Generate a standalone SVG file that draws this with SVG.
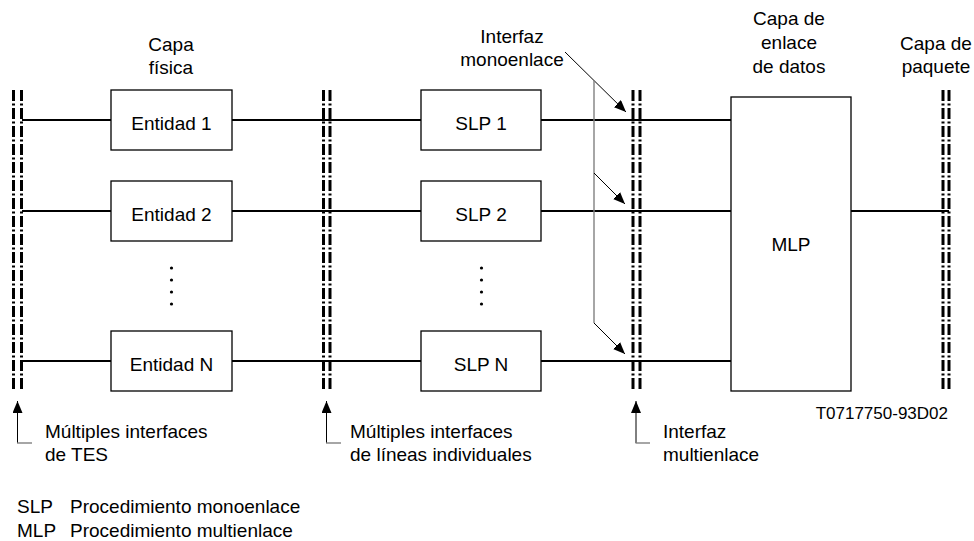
<svg xmlns="http://www.w3.org/2000/svg" width="974" height="541" viewBox="0 0 974 541">
<style>
text{font-family:"Liberation Sans",Arial,sans-serif;font-size:19px;fill:#000}
.c{text-anchor:middle}
.box{fill:#fff;stroke:#000;stroke-width:1.3}
.bar{stroke:#000;stroke-width:3;stroke-dasharray:11 2.5 2 2.5;fill:none}
.ln{stroke:#000;stroke-width:2.2;fill:none}
.thin{stroke:#000;stroke-width:1;fill:none}
.gray{stroke:#808080;stroke-width:1.4;fill:none}
.small{font-size:17px}
</style>
<defs>
<marker id="ah" viewBox="0 0 12 10" refX="12" refY="5" markerWidth="12" markerHeight="10" markerUnits="userSpaceOnUse" orient="auto">
<path d="M0,0 L12,5 L0,10 Z" fill="#000"/>
</marker>
</defs>
<g id="connectors">
<line class="ln" x1="22" y1="120" x2="111" y2="120"/>
<line class="ln" x1="232" y1="120" x2="421" y2="120"/>
<line class="ln" x1="541" y1="120" x2="731" y2="120"/>
<line class="ln" x1="22" y1="211" x2="111" y2="211"/>
<line class="ln" x1="232" y1="211" x2="421" y2="211"/>
<line class="ln" x1="541" y1="211" x2="731" y2="211"/>
<line class="ln" x1="851" y1="211" x2="949" y2="211"/>
<line class="ln" x1="22" y1="361" x2="111" y2="361"/>
<line class="ln" x1="232" y1="361" x2="421" y2="361"/>
<line class="ln" x1="541" y1="361" x2="731" y2="361"/>
<line class="thin" x1="565" y1="52" x2="626" y2="112" marker-end="url(#ah)"/>
<line class="gray" x1="594" y1="81" x2="594" y2="323"/>
<line class="thin" x1="594" y1="173" x2="625" y2="204" marker-end="url(#ah)"/>
<line class="thin" x1="594" y1="323" x2="625" y2="354" marker-end="url(#ah)"/>
<path class="thin" d="M17.5,443 V401" marker-end="url(#ah)"/>
<line class="gray" x1="17" y1="443" x2="32" y2="443"/>
<path class="thin" d="M326.5,443 V401" marker-end="url(#ah)"/>
<line class="gray" x1="326" y1="443" x2="341" y2="443"/>
<path class="thin" d="M636,443 V401" marker-end="url(#ah)"/>
<line class="gray" x1="635.5" y1="443" x2="650" y2="443"/>
</g>
<g id="bar-tes">
<line class="bar" x1="13.5" y1="90" x2="13.5" y2="391"/>
<line class="bar" x1="21.5" y1="90" x2="21.5" y2="391"/>
</g>
<g id="bar-lineas">
<line class="bar" x1="323.5" y1="90" x2="323.5" y2="391"/>
<line class="bar" x1="330" y1="90" x2="330" y2="391"/>
</g>
<g id="bar-multienlace">
<line class="bar" x1="633" y1="90" x2="633" y2="391"/>
<line class="bar" x1="640" y1="90" x2="640" y2="391"/>
</g>
<g id="bar-paquete">
<line class="bar" x1="943" y1="90" x2="943" y2="391"/>
<line class="bar" x1="949" y1="90" x2="949" y2="391"/>
</g>
<g id="entidad1"><rect class="box" x="111" y="90" width="121" height="60"/><text class="c" x="171.5" y="130">Entidad 1</text></g>
<g id="entidad2"><rect class="box" x="111" y="181" width="121" height="60"/><text class="c" x="171.5" y="221">Entidad 2</text></g>
<g id="entidadN"><rect class="box" x="111" y="331" width="121" height="60"/><text class="c" x="171.5" y="371">Entidad N</text></g>
<g id="slp1"><rect class="box" x="421" y="90" width="120" height="60"/><text class="c" x="481" y="130">SLP 1</text></g>
<g id="slp2"><rect class="box" x="421" y="181" width="120" height="60"/><text class="c" x="481" y="221">SLP 2</text></g>
<g id="slpN"><rect class="box" x="421" y="331" width="120" height="60"/><text class="c" x="481" y="371">SLP N</text></g>
<g id="mlp"><rect class="box" x="731" y="97" width="120" height="294"/><text class="c" x="791" y="251">MLP</text></g>
<g id="dots" fill="#000">
<circle cx="171.5" cy="268" r="1.6"/><circle cx="171.5" cy="280" r="1.6"/><circle cx="171.5" cy="292" r="1.6"/><circle cx="171.5" cy="304" r="1.6"/>
<circle cx="481.5" cy="268" r="1.6"/><circle cx="481.5" cy="280" r="1.6"/><circle cx="481.5" cy="292" r="1.6"/><circle cx="481.5" cy="304" r="1.6"/>
</g>
<g id="labels">
<text class="c" x="171" y="51">Capa</text>
<text class="c" x="171" y="74">física</text>
<text class="c" x="512" y="43">Interfaz</text>
<text class="c" x="512" y="66">monoenlace</text>
<text class="c" x="789" y="25">Capa de</text>
<text class="c" x="789" y="49">enlace</text>
<text class="c" x="789" y="73">de datos</text>
<text class="c" x="936" y="50">Capa de</text>
<text class="c" x="936" y="73">paquete</text>
<text x="45" y="438">Múltiples interfaces</text>
<text x="45" y="461">de TES</text>
<text x="350" y="438">Múltiples interfaces</text>
<text x="350" y="461">de líneas individuales</text>
<text x="663" y="438">Interfaz</text>
<text x="663" y="461">multienlace</text>
<text class="small" x="948" y="419" text-anchor="end">T0717750-93D02</text>
<text x="17" y="513">SLP</text>
<text x="70" y="513">Procedimiento monoenlace</text>
<text x="17" y="537">MLP</text>
<text x="70" y="537">Procedimiento multienlace</text>
</g>
</svg>
